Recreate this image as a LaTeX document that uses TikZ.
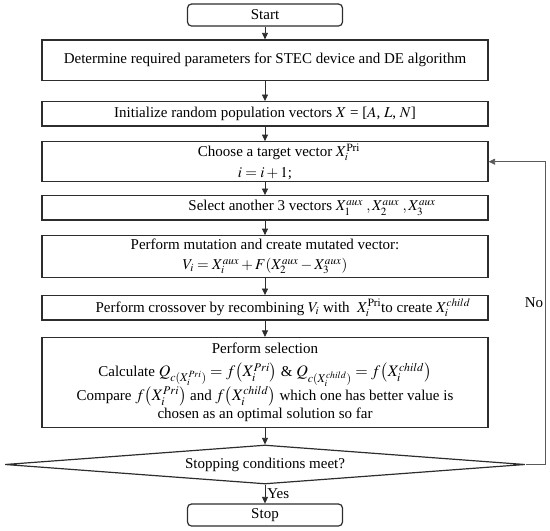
\documentclass[tikz,border=0pt]{standalone}
\usepackage{mathptmx}
\usepackage{fontspec}
\setmainfont{Liberation Serif}
\usepackage{tikz}
\usetikzlibrary{arrows.meta,positioning,shapes.geometric,calc}
\definecolor{flowline}{RGB}{45,45,45}
\definecolor{backline}{RGB}{90,90,90}
\newcommand{\selmath}[1]{{\fontsize{16}{21}\selectfont$#1$}}
\newcommand{\lead}[1]{\rule{#1}{0pt}}
\tikzset{
  procbox/.style={draw=flowline, line width=1.2pt, minimum width=446pt, inner sep=0pt, align=center, font={\fontsize{15}{21}\selectfont\lineskiplimit=-50pt}},
  termbox/.style={draw=flowline, line width=1.2pt, rounded corners=4pt, minimum width=155pt, minimum height=22pt, inner sep=0pt, font=\fontsize{15}{21}\selectfont},
  decbox/.style={draw=flowline, line width=1.2pt, diamond, aspect=13.3, minimum width=520pt, minimum height=39pt, inner sep=0pt, font=\fontsize{15}{21}\selectfont},
  flowarrow/.style={draw=flowline, line width=0.8pt, -{Triangle[length=6.5pt,width=6pt]}},
  backarrow/.style={draw=backline, line width=0.8pt, -{Triangle[length=6.5pt,width=6pt]}},
  lbl/.style={font=\fontsize{15}{21}\selectfont, inner sep=2pt}
}

\begin{document}
\begin{tikzpicture}[x=1pt, y=-1pt]
\useasboundingbox (0,0) rectangle (550,531);
% Terminals and steps
\node[termbox] (start) at (265,15) {Start};
\node[procbox, minimum height=40.7pt] (determine) at (265,60.3) {Determine required parameters for STEC device and DE algorithm};
\node[procbox, minimum height=24.3pt] (init) at (265,113.8) {Initialize random population vectors $X$ = [$A$, $L$, $N$]};
\node[procbox, minimum height=40pt] (choose) at (265,161.7) {\lead{28pt}Choose a target vector $X_i^{\mathrm{Pri}}$\\ $i = i + 1$;};
\node[procbox, minimum height=24.3pt] (select) at (265,207.8) {\lead{94pt}Select another 3 vectors $X_1^{aux}\;,X_2^{aux}\;,X_3^{aux}$};
\node[procbox, minimum height=41.6pt] (mutate) at (265,256.5) {Perform mutation and create mutated vector:\\[-1pt] $V_i = X_i^{aux} + F(X_2^{aux} - X_3^{aux})$};
\node[procbox, minimum height=24.3pt] (cross) at (265,307.8) {\lead{36pt}Perform crossover by recombining $V_i$ with~ $X_i^{\mathrm{Pri}}$to create $X_i^{child}$};
\node[procbox, minimum height=90pt] (selection) at (265,382.5) {Perform selection\\[2pt]
  Calculate \selmath{Q_{c(X_i^{Pri})} = f\bigl(X_i^{Pri}\bigr)} \& \selmath{Q_{c(X_i^{child})} = f\bigl(X_i^{child}\bigr)}\\[2.5pt]
  Compare \selmath{f\bigl(X_i^{Pri}\bigr)} and \selmath{f\bigl(X_i^{child}\bigr)} which one has better value is\\[-3pt]
  chosen as an optimal solution so far};
\node[decbox] (stopcond) at (265,464.5) {Stopping conditions meet?};
\node[termbox] (stop) at (265,515) {Stop};
% Main flow
\draw[flowarrow] (start) -- (determine);
\draw[flowarrow] (determine) -- (init);
\draw[flowarrow] (init) -- (choose);
\draw[flowarrow] (choose) -- (select);
\draw[flowarrow] (select) -- (mutate);
\draw[flowarrow] (mutate) -- (cross);
\draw[flowarrow] (cross) -- (selection);
\draw[flowarrow] (selection) -- (stopcond);
\draw[flowarrow] (stopcond) -- node[lbl, right, pos=0.5] (yes) {Yes} (stop);
% Loop back
\draw[backarrow] (stopcond.east) -- ++(20,0) |- node[lbl, left, pos=0.267] (no) {No} (choose.east);
\end{tikzpicture}
\end{document}
